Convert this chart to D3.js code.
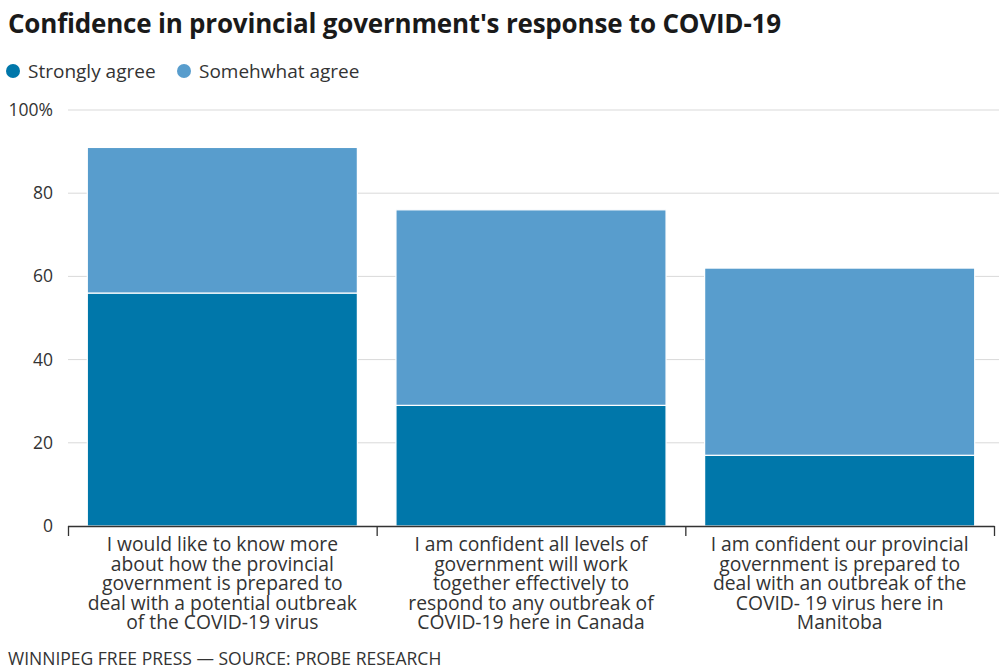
<!DOCTYPE html>
<html>
<head>
<meta charset="utf-8">
<script src="https://cdn.jsdelivr.net/npm/d3@7"></script>
<style>
  body { margin: 0; background: #fff; }
  svg { font-family: 'Open Sans', sans-serif; display: block; }
</style>
</head>
<body>
<svg id="chart" width="999" height="669"></svg>
<script>
const categories = [
  'I would like to know more about how the provincial government is prepared to deal with a potential outbreak of the COVID-19 virus',
  'I am confident all levels of government will work together effectively to respond to any outbreak of COVID-19 here in Canada',
  'I am confident our provincial government is prepared to deal with an outbreak of the COVID- 19 virus here in Manitoba'
]
const categoryLines = [
  ['I would like to know more', 'about how the provincial', 'government is prepared to', 'deal with a potential outbreak', 'of the COVID-19 virus'],
  ['I am confident all levels of', 'government will work', 'together effectively to', 'respond to any outbreak of', 'COVID-19 here in Canada'],
  ['I am confident our provincial', 'government is prepared to', 'deal with an outbreak of the', 'COVID- 19 virus here in', 'Manitoba']
]
const seriesNames = ['Strongly agree', 'Somehwhat agree']
const stronglyAgree = [56, 29, 17]
const somewhatAgree = [35, 47, 45]
const yTicks = [0, 20, 40, 60, 80, 100]

const colors = ['#0077aa', '#589dcd']

const svg = d3.select('#chart')

const x = d3.scaleBand()
  .domain(categories)
  .range([68, 994])
  .paddingInner(0.125)
  .paddingOuter(0.0625)

const y = d3.scaleLinear().domain([0, 100]).range([526, 110])

const rows = categories.map((c, i) => ({ cat: c, s0: stronglyAgree[i], s1: somewhatAgree[i] }))
const stacked = d3.stack().keys(['s0', 's1'])(rows)

// title
svg.append('text')
  .attr('x', 8)
  .attr('y', 33)
  .attr('font-size', 26)
  .attr('font-weight', 700)
  .attr('fill', '#1a1a1a')
  .style('letter-spacing', '-0.2px')
  .text("Confidence in provincial government's response to COVID-19")

// legend
const legend = svg.selectAll('.legend')
  .data(seriesNames)
  .enter()
  .append('g')
  .attr('class', 'legend')
  .attr('transform', (d, i) => `translate(${i === 0 ? 13 : 184},71)`)

legend.append('circle')
  .attr('r', 7)
  .attr('fill', (d, i) => colors[i])

legend.append('text')
  .attr('x', 15)
  .attr('y', 6.5)
  .attr('font-size', 19)
  .attr('fill', '#333')
  .text(d => d)

// grid
svg.append('g')
  .selectAll('line')
  .data(yTicks.filter(d => d > 0))
  .enter()
  .append('line')
  .attr('x1', 68)
  .attr('x2', 999)
  .attr('y1', d => y(d))
  .attr('y2', d => y(d))
  .attr('stroke', '#d9d9d9')
  .attr('stroke-width', 1)

svg.append('g')
  .selectAll('text')
  .data(yTicks)
  .enter()
  .append('text')
  .attr('x', 53)
  .attr('y', d => y(d) + 6)
  .attr('text-anchor', 'end')
  .attr('font-size', 17.5)
  .attr('fill', '#333')
  .text(d => d === 100 ? '100%' : d)

// bars
svg.append('g')
  .selectAll('g')
  .data(stacked)
  .enter()
  .append('g')
  .attr('fill', (d, i) => colors[i])
  .selectAll('rect')
  .data(d => d)
  .enter()
  .append('rect')
  .attr('x', d => x(d.data.cat))
  .attr('width', x.bandwidth())
  .attr('y', d => y(d[1]))
  .attr('height', d => y(d[0]) - y(d[1]))
  .attr('stroke', '#fff')
  .attr('stroke-width', 1.2)

// x axis
svg.append('line')
  .attr('x1', 68)
  .attr('x2', 994.5)
  .attr('y1', 526.5)
  .attr('y2', 526.5)
  .attr('stroke', '#333')
  .attr('stroke-width', 1.3)

const bounds = [68].concat(categories.map(c => x(c) - x.paddingInner() * x.step() / 2 + x.step()))
bounds[3] = 994
svg.append('g')
  .selectAll('line')
  .data(bounds)
  .enter()
  .append('line')
  .attr('x1', d => d + 0.5)
  .attr('x2', d => d + 0.5)
  .attr('y1', 526)
  .attr('y2', 536)
  .attr('stroke', '#333')
  .attr('stroke-width', 1.3)

const labels = svg.append('g')
  .selectAll('text')
  .data(categories)
  .enter()
  .append('text')
  .attr('text-anchor', 'middle')
  .attr('font-size', 19.3)
  .attr('fill', '#333')

labels.selectAll('tspan')
  .data((d, i) => categoryLines[i].map(l => ({ l, c: d })))
  .enter()
  .append('tspan')
  .attr('x', d => x(d.c) + x.bandwidth() / 2)
  .attr('y', (d, i) => 551 + i * 19.5)
  .text(d => d.l)

// source
svg.append('text')
  .attr('x', 8)
  .attr('y', 665)
  .attr('font-size', 17.5)
  .attr('fill', '#333')
  .text('WINNIPEG FREE PRESS — SOURCE: PROBE RESEARCH')
</script>
</body>
</html>
